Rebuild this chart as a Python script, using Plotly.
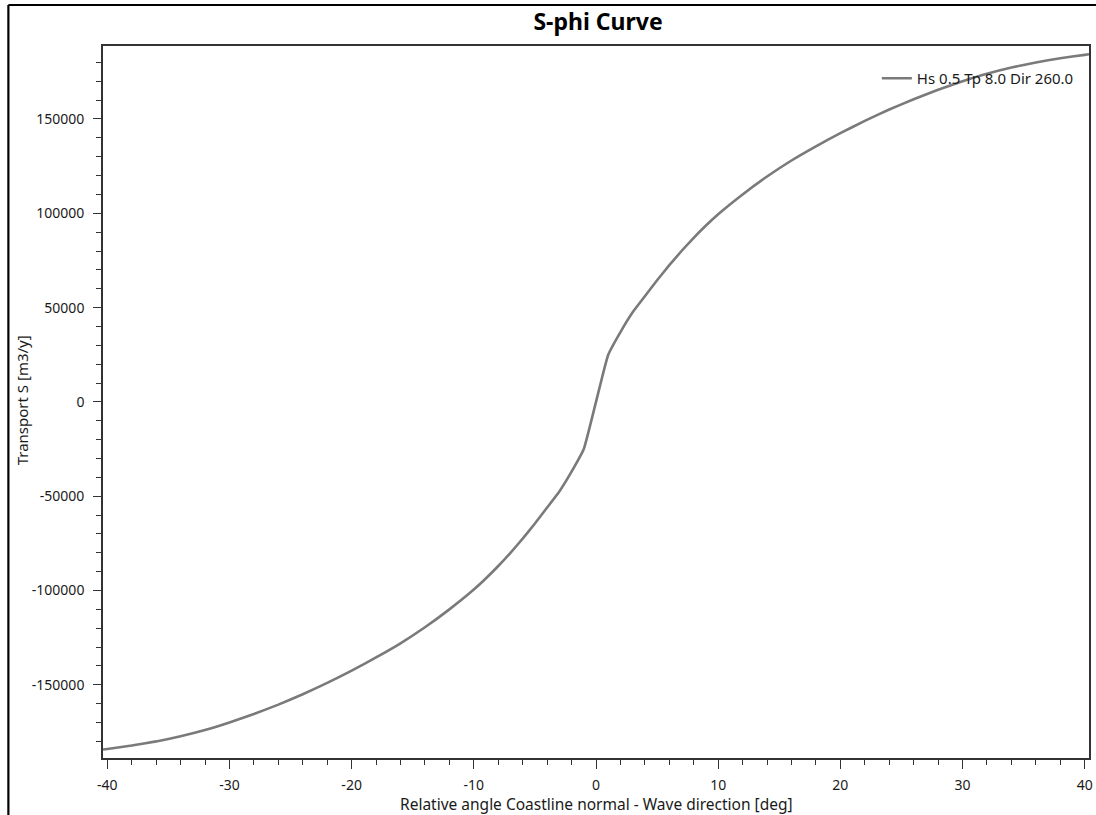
import plotly.graph_objects as go

# ---- data ----
angle_deg = [-40.35, -40, -38, -36, -34, -32, -30, -28, -26, -24, -22, -20, -18, -16, -14, -12, -10,
             -9, -8, -7, -6, -5, -4, -3, -2, -1, 0, 1, 2, 3, 4, 5, 6, 7, 8, 9, 10, 12, 14, 16, 18,
             20, 22, 24, 26, 28, 30, 32, 34, 36, 38, 40, 40.35]
transport = [-184300, -184000, -182200, -180000, -177300, -174000, -170000, -165500, -160500, -155000,
             -149000, -142500, -135500, -128000, -119500, -110000, -99500, -93500, -87000, -80000,
             -72500, -64500, -56000, -47500, -37000, -25000, 0, 25000, 37000, 47500, 56000, 64500,
             72500, 80000, 87000, 93500, 99500, 110000, 119500, 128000, 135500, 142500, 149000,
             155000, 160500, 165500, 170000, 174000, 177300, 180000, 182200, 184000, 184300]
series_name = "Hs 0.5 Tp 8.0 Dir 260.0"

x_tick_vals = [-40, -30, -20, -10, 0, 10, 20, 30, 40]
x_tick_text = ["-40", "-30", "-20", "-10", "0", "10", "20", "30", "40"]
y_tick_vals = [-150000, -100000, -50000, 0, 50000, 100000, 150000]
y_tick_text = ["-150000", "-100000", "-50000", "0", "50000", "100000", "150000"]

title_text = "S-phi Curve"
x_title = "Relative angle Coastline normal - Wave direction [deg]"
y_title = "Transport S [m3/y]"

# ---- figure ----
W, H = 1096, 815
L, R, T, B = 103, 1093, 46, 758
pw, ph = R - L, B - T

def px_x(p):
    return (p - L) / pw

def px_y(p):
    return (B - p) / ph

FONT = "Noto Sans"
TXT = "#1a1a1a"

fig = go.Figure()
fig.add_trace(go.Scatter(x=angle_deg, y=transport, mode="lines", name=series_name,
                         line=dict(color="#7a7a7a", width=2.6, shape="spline", smoothing=0.4)))

axis_common = dict(
    showgrid=False, zeroline=False, showline=True, linecolor="#333333", linewidth=1.6,
    mirror=True, ticks="outside", tickcolor="#333333", tickwidth=1.4,
    tickfont=dict(family=FONT, size=14, color=TXT),
)

fig.update_xaxes(range=[-40.35, 40.35], tickvals=x_tick_vals, ticktext=x_tick_text,
                 ticklen=9, ticklabelstandoff=4,
                 minor=dict(ticks="outside", dtick=2, ticklen=5, tickcolor="#333333", tickwidth=1.4),
                 **axis_common)
fig.update_yaxes(range=[-188800, 188700], tickvals=y_tick_vals, ticktext=y_tick_text,
                 ticklen=8, ticklabelstandoff=6,
                 minor=dict(ticks="outside", dtick=10000, ticklen=5, tickcolor="#333333", tickwidth=1.4),
                 **axis_common)

fig.update_layout(
    width=W, height=H,
    margin=dict(l=L, r=W - R, t=T, b=H - B, pad=0),
    paper_bgcolor="white", plot_bgcolor="white",
    title=dict(text="<b>" + title_text + "</b>", x=598 / W, xanchor="center",
               y=1 - 22 / H, yanchor="middle", font=dict(family=FONT, size=23, color="black")),
    showlegend=True,
    legend=dict(x=px_x(880), y=px_y(62), xanchor="left", yanchor="top",
                bgcolor="rgba(0,0,0,0)", borderwidth=0,
                font=dict(family=FONT, size=15, color=TXT)),
    annotations=[
        dict(text=x_title, xref="paper", yref="paper", x=0.5, y=px_y(804), xanchor="center",
             yanchor="middle", showarrow=False, font=dict(family=FONT, size=15.5, color=TXT)),
        dict(text=y_title, xref="paper", yref="paper", x=px_x(22), y=px_y(400), xanchor="center",
             yanchor="middle", textangle=-90, showarrow=False,
             font=dict(family=FONT, size=15, color=TXT)),
    ],
    shapes=[
        dict(type="line", xref="paper", yref="paper", x0=px_x(8), x1=px_x(8), y0=px_y(5), y1=px_y(820),
             line=dict(color="black", width=2.2)),
        dict(type="line", xref="paper", yref="paper", x0=px_x(8), x1=px_x(1100), y0=px_y(5), y1=px_y(5),
             line=dict(color="black", width=2.2)),
    ],
)

fig.write_html("out.html", config={"displayModeBar": False},
               post_script="document.documentElement.style.margin='0';"
                           "document.body.style.margin='0';"
                           "document.body.style.overflow='hidden';")
